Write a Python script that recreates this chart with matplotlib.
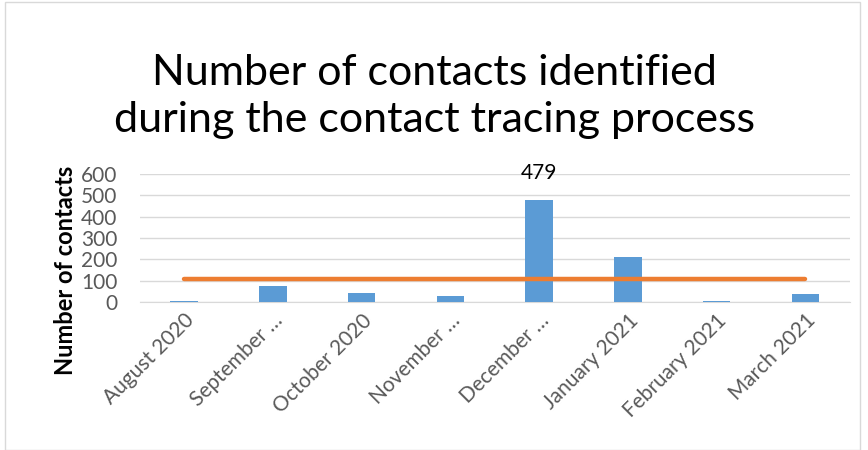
import matplotlib.pyplot as plt
import numpy as np
from matplotlib.patches import Rectangle

plt.rcParams['font.family'] = ['Lato', 'DejaVu Sans']

months = ['August 2020', 'September …', 'October 2020', 'November …',
          'December …', 'January 2021', 'February 2021', 'March 2021']
contacts = [3, 75, 42, 28, 479, 212, 3, 39]
average = [110, 110, 110, 110, 110, 110, 110, 110]

fig = plt.figure(figsize=(8.68, 4.5), dpi=100)
ax = fig.add_axes([0.161, 0.329, 0.818, 0.284])

x = np.arange(len(months))
bars = ax.bar(x, contacts, width=0.31, color='#5B9BD5', zorder=3)
ax.plot(x, average, color='#ED7D31', linewidth=3.2, solid_capstyle='round', zorder=4)

# only the peak month gets a data label
imax = int(np.argmax(contacts))
ax.annotate(str(contacts[imax]), (x[imax], contacts[imax]), xytext=(0, 12),
            textcoords='offset points', ha='center', va='bottom',
            fontsize=15, color='black')

ax.set_ylim(0, 600)
ax.set_xlim(-0.5, len(months) - 0.5)
ax.set_yticks(range(0, 601, 100))
ax.yaxis.grid(True, color='#D9D9D9', linewidth=1, zorder=0)
for s in ['top', 'right', 'left']:
    ax.spines[s].set_visible(False)
ax.spines['bottom'].set_color('#D9D9D9')
ax.tick_params(axis='both', length=0, labelsize=15, labelcolor='#595959')
ax.tick_params(axis='y', pad=16)
ax.tick_params(axis='x', pad=6)
ax.set_xticks(x)
ax.set_xticklabels(months, rotation=45, ha='right', rotation_mode='anchor')
ax.set_ylabel('Number of contacts', fontsize=17, fontweight='bold')
ax.yaxis.set_label_coords(-0.088, 0.25)

fig.text(0.5, 0.785, 'Number of contacts identified\nduring the contact tracing process',
         ha='center', va='center', fontsize=31, linespacing=1.3)

fig.patches.append(Rectangle((0.006, 0.0), 0.985, 0.995, transform=fig.transFigure,
                             fill=False, edgecolor='#D9D9D9', linewidth=1))

fig.savefig('out.png')
